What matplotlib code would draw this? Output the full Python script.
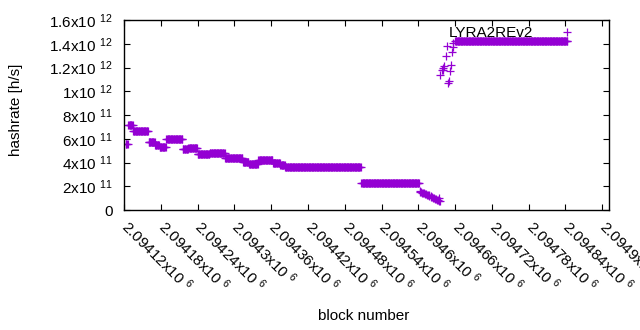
"""Hashrate per block for LYRA2REv2, gnuplot-like style."""

import matplotlib
import matplotlib.pyplot as plt
import matplotlib.transforms as mtransforms
import numpy as np

matplotlib.use("Agg")

plt.rcParams["font.family"] = ["Liberation Sans", "DejaVu Sans"]
plt.rcParams["mathtext.default"] = "regular"

# flat stretches of hashrate: first block, last block, rate [h/s]
seg_start = [2094123, 2094127, 2094135, 2094160, 2094171, 2094178, 2094189,
             2094216, 2094225, 2094240, 2094260, 2094285, 2094299, 2094314,
             2094324, 2094339, 2094363, 2094375, 2094383, 2094507, 2094660]
seg_end = [2094126, 2094134, 2094159, 2094170, 2094177, 2094188, 2094215,
           2094224, 2094239, 2094259, 2094284, 2094298, 2094313, 2094323,
           2094338, 2094362, 2094374, 2094382, 2094506, 2094601, 2094843]
seg_rate = [5.6e11, 7.15e11, 6.65e11, 5.7e11, 5.5e11, 5.3e11, 5.98e11,
            5.1e11, 5.2e11, 4.7e11, 4.83e11, 4.35e11, 4.38e11, 4.07e11,
            3.85e11, 4.18e11, 3.93e11, 3.8e11, 3.6e11, 2.3e11, 1.42e12]

# falling stretch before the jump
ramp_blocks = [2094602, 2094603, 2094605, 2094606, 2094608, 2094609, 2094611,
               2094612, 2094614, 2094615, 2094617, 2094618, 2094620, 2094621,
               2094623, 2094624, 2094626, 2094627, 2094629, 2094630, 2094632,
               2094633, 2094634, 2094635]
ramp_rates = [1.60e11, 1.52e11, 1.55e11, 1.47e11, 1.45e11, 1.40e11, 1.38e11,
              1.33e11, 1.30e11, 1.27e11, 1.25e11, 1.18e11, 1.15e11, 1.12e11,
              1.08e11, 1.04e11, 1.00e11, 0.95e11, 0.90e11, 0.86e11, 0.82e11,
              1.05e11, 0.76e11, 0.72e11]

# scattered values during the jump
jump_blocks = [2094636, 2094638, 2094640, 2094641, 2094642, 2094645, 2094647,
               2094649, 2094650, 2094652, 2094654, 2094655, 2094656, 2094657]
jump_rates = [1.14e12, 1.18e12, 1.18e12, 1.20e12, 1.21e12, 1.30e12, 1.38e12,
              1.07e12, 1.09e12, 1.17e12, 1.22e12, 1.33e12, 1.375e12, 1.41e12]

x_ticks = [2094120 + 60 * k for k in range(14)]
y_ticks = [0, 2e11, 4e11, 6e11, 8e11, 1e12, 1.2e12, 1.4e12, 1.6e12]


def sci_label(v):
    if v == 0:
        return "0"
    exp = int(np.floor(np.log10(abs(v))))
    mant = v / 10 ** exp
    return f"{mant:g}x10 $^{{{exp}}}$"


blocks = []
rates = []
for s, e, r in zip(seg_start, seg_end, seg_rate):
    b = np.arange(s, e + 1)
    blocks.append(b)
    rates.append(np.full(b.size, r))
blocks = np.concatenate(blocks + [np.array(ramp_blocks), np.array(jump_blocks)])
rates = np.concatenate(rates + [np.array(ramp_rates), np.array(jump_rates)])
order = np.argsort(blocks, kind="stable")
blocks, rates = blocks[order], rates[order]

fs = 11
color = "#9400d3"

fig = plt.figure(figsize=(6.4, 3.3), dpi=100)
ax = fig.add_axes([124 / 640, 1 - 210 / 330, (609 - 124) / 640, (210 - 20) / 330])
ax.plot(blocks, rates, linestyle="none", marker="+", ms=5.5, mew=0.9,
        color=color, label="LYRA2REv2")

ax.set_xlim(2094120, 2094911)
ax.set_ylim(0, 1.6e12)
ax.set_xticks(x_ticks)
ax.set_xticklabels([f"{v / 1e6:g}x10 $^{{6}}$" for v in x_ticks],
                   rotation=-45, ha="left", va="top", rotation_mode="anchor")
ax.set_yticks(y_ticks)
ax.set_yticklabels([sci_label(v) for v in y_ticks])
ax.tick_params(direction="in", top=True, right=True, length=4, width=0.8,
               labelsize=fs, colors="black")
ax.tick_params(axis="x", pad=5)
ax.tick_params(axis="y", pad=8)
for sp in ax.spines.values():
    sp.set_linewidth(1.0)

shift = mtransforms.ScaledTranslation(0.07, 0, fig.dpi_scale_trans)
for lab in ax.get_xticklabels():
    lab.set_transform(lab.get_transform() + shift)

fig.text(16 / 640, 1 - 110 / 330, "hashrate [h/s]", rotation=90,
         ha="center", va="center", fontsize=fs)
fig.text(364 / 640, 1 - 316 / 330, "block number", ha="center", va="center",
         fontsize=fs)

ax.legend(loc="upper right", bbox_to_anchor=(582 / 640, 1 - 26 / 330),
          bbox_transform=fig.transFigure, frameon=False, markerfirst=False,
          fontsize=fs, handlelength=2, handletextpad=1.2, borderpad=0,
          borderaxespad=0, numpoints=1)

fig.savefig("out.png", dpi=100)
